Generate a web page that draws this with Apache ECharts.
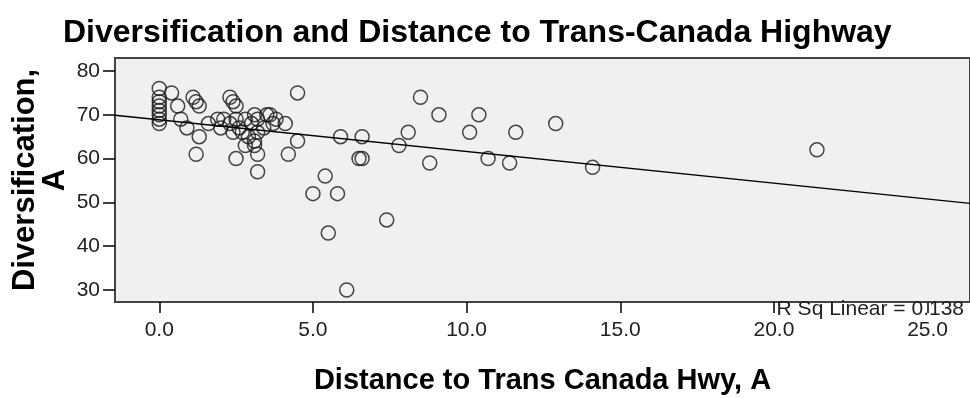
<!DOCTYPE html>
<html><head><meta charset="utf-8">
<script src="https://cdn.jsdelivr.net/npm/echarts@6/dist/echarts.min.js"></script>
<style>html,body{margin:0;padding:0;background:#fff}#c{width:970px;height:398px}</style>
</head><body><div id="c"></div>
<script>
const titleText = 'Diversification and Distance to Trans-Canada Highway';
const xTitle = 'Distance to Trans Canada Hwy, A';
const yTitle = 'Diversification,\nA';
const xTicks = [0, 5, 10, 15, 20, 25];
const yTicks = [30, 40, 50, 60, 70, 80];
const distance = [0,0,0,0,0,0,0,0,0.4,0.6,0.7,0.9,1.1,1.2,1.3,1.3,1.2,1.6,2.0,1.9,2.1,2.3,2.4,2.5,2.4,2.3,2.5,2.6,2.7,2.8,2.9,2.5,2.8,3.0,3.1,3.2,3.1,3.1,3.2,3.2,3.2,3.4,3.5,3.6,3.7,3.8,4.1,4.2,4.5,4.5,5.0,5.4,5.5,5.8,5.9,6.1,6.5,6.6,6.6,7.4,7.8,8.1,8.5,8.8,9.1,10.1,10.4,10.7,11.4,11.6,12.9,14.1,21.4];
const diversification = [76,74,73,72,71,70,69,68,75,72,69,67,74,73,72,65,61,68,67,69,69,74,73,72,66,68,69,67,66,69,65,60,63,68,70,69,64,63,66,61,57,67,70,70,68,69,68,61,75,64,52,56,43,52,65,30,60,60,65,46,63,66,74,59,70,66,70,60,59,66,68,58,62];
const fitX = [-1.44, 26.38];
const fitY = [69.9, 49.8];
const rsqText = 'R Sq Linear = 0.138';

const pts = distance.map((d, i) => [d, diversification[i]]);
const chart = echarts.init(document.getElementById('c'), null, {renderer: 'canvas'});
chart.setOption({
  animation: false,
  title: {text: titleText, left: 58, top: 12,
    textStyle: {fontFamily: 'Liberation Sans', fontWeight: 'bold', fontSize: 32, color: '#000'}},
  grid: {left: 115, right: 0, top: 58, bottom: 96, show: true, backgroundColor: '#f0f0f0',
    borderColor: '#444', borderWidth: 2, outerBoundsMode: 'none', containLabel: false},
  xAxis: {type: 'value', min: -1.44, max: 26.38,
    name: xTitle, nameLocation: 'middle', nameGap: 64, nameMoveOverlap: false,
    nameTextStyle: {fontFamily: 'Liberation Sans', fontWeight: 'bold', fontSize: 29, color: '#000'},
    axisLine: {show: false, onZero: false}, splitLine: {show: false},
    axisTick: {show: true, inside: false, length: 11, customValues: xTicks, lineStyle: {color: '#000', width: 1.5}},
    axisLabel: {customValues: xTicks, margin: 18, fontFamily: 'Liberation Sans', fontSize: 21, color: '#222',
      formatter: v => v.toFixed(1)}},
  yAxis: {type: 'value', min: 27.26, max: 82.97,
    name: yTitle, nameLocation: 'middle', nameGap: 45, nameRotate: 90, nameMoveOverlap: false,
    nameTextStyle: {fontFamily: 'Liberation Sans', fontWeight: 'bold', fontSize: 31, color: '#000', lineHeight: 30},
    axisLine: {show: false, onZero: false}, splitLine: {show: false},
    axisTick: {show: true, inside: false, length: 12, customValues: yTicks, lineStyle: {color: '#000', width: 1.5}},
    axisLabel: {customValues: yTicks, margin: 15, fontFamily: 'Liberation Sans', fontSize: 21, color: '#222'}},
  graphic: [{type: 'text', right: 6, top: 299,
    style: {text: rsqText, fontFamily: 'Liberation Sans', fontSize: 21, fill: '#222'}}],
  series: [
    {type: 'scatter', data: pts, symbol: 'circle', symbolSize: 14,
      itemStyle: {color: 'rgba(0,0,0,0)', borderColor: '#1a1a1a', borderWidth: 1.5}},
    {type: 'line', data: fitX.map((x, i) => [x, fitY[i]]), symbol: 'none',
      lineStyle: {color: '#000', width: 1.3}}
  ]
});
</script></body></html>
